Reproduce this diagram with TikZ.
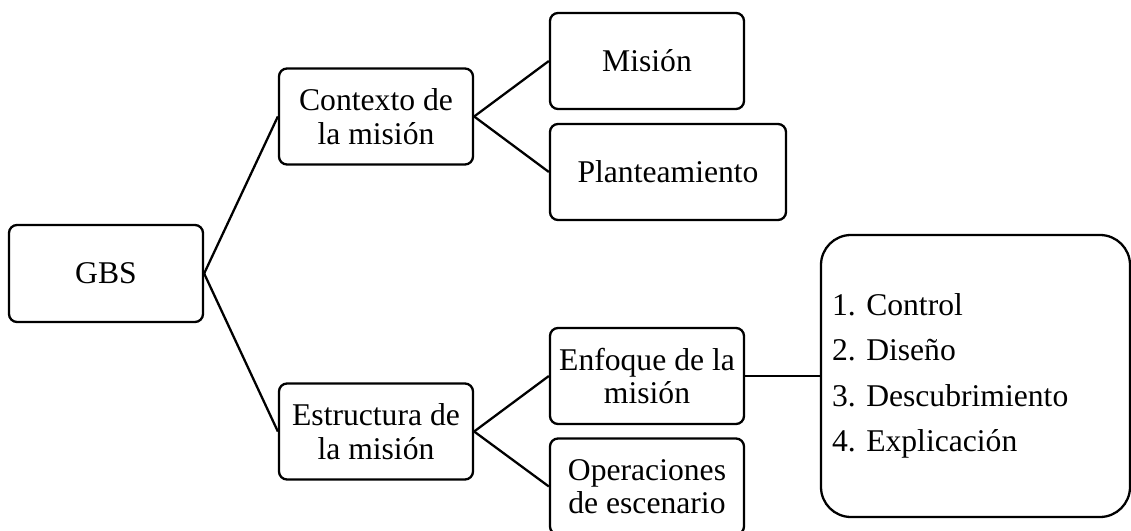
\documentclass[tikz,border=0pt]{standalone}
\usepackage{fontspec}
\setmainfont{Liberation Serif}
\frenchspacing

\begin{document}
\begin{tikzpicture}[caja/.style={draw,line width=1.3pt,rounded corners=0.16cm,minimum width=3.88cm,minimum height=1.92cm,align=center,inner sep=0pt,font=\fontsize{18}{19}\selectfont},
                    enlace/.style={line width=1.3pt}]
                \useasboundingbox (0,0) rectangle (22.62,10.62);
                \node[caja,minimum height=1.94cm] (gbs) at (2.12,5.15) {GBS};
                \node[caja] (contexto) at (7.52,8.29) {Contexto de\\la misión};
                \node[caja] (estructura) at (7.52,1.99) {Estructura de\\la misión};
                \node[caja] (mision) at (12.94,9.40) {Misión};
                \node[caja,minimum width=4.72cm] (plantea) at (13.36,7.18) {Planteamiento};
                \node[caja] (enfoque) at (12.94,3.10) {Enfoque de la\\misión};
                \node[caja] (operaciones) at (12.94,0.89) {Operaciones\\de escenario};
                \node[caja,rounded corners=0.6cm,text width=5.74cm,align=left,inner xsep=0.22cm,minimum height=5.64cm,font=\fontsize{18}{25.8}\selectfont] (lista) at (19.51,3.10) {1. Control\\2. Diseño\\3. Descubrimiento\\4. Explicación};
                \draw[enlace] (gbs.east)--(contexto.west);
                \draw[enlace] (gbs.east)--(estructura.west);
                \draw[enlace] (contexto.east)--(mision.west);
                \draw[enlace] (contexto.east)--(plantea.west);
                \draw[enlace] (estructura.east)--(enfoque.west);
                \draw[enlace] (estructura.east)--(operaciones.west);
                \draw[enlace] (enfoque.east)--(lista.west);
            \end{tikzpicture}
\end{document}
